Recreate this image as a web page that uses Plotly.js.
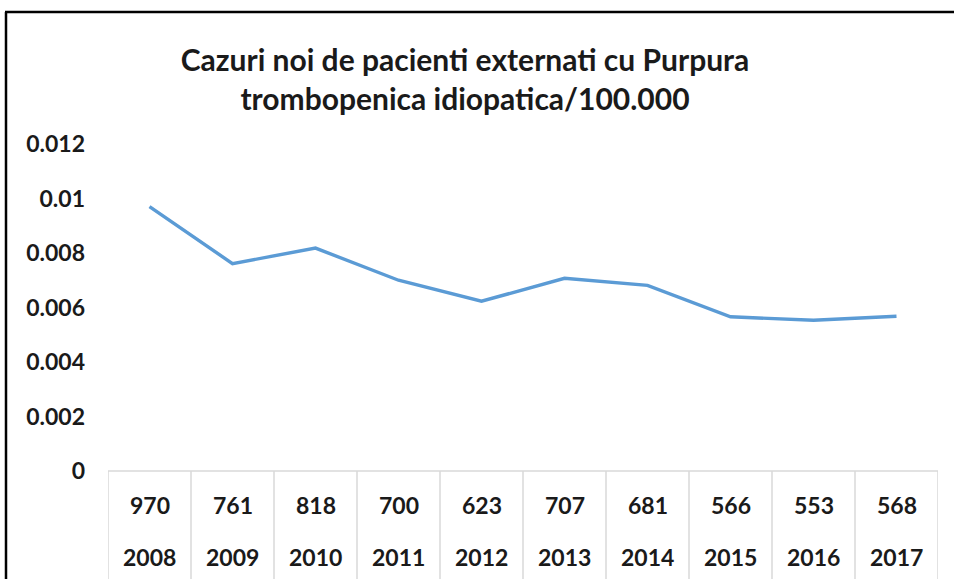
<!DOCTYPE html>
<html>
<head>
<meta charset="utf-8">
<script src="https://cdn.plot.ly/plotly-3.0.1.min.js"></script>
<style>
  html, body { margin: 0; padding: 0; background: #fff; }
  #chart { width: 954px; height: 579px; }
</style>
</head>
<body>
<div id="chart"></div>
<script>
// ---- data ----
const years = ["2008", "2009", "2010", "2011", "2012", "2013", "2014", "2015", "2016", "2017"];
const cases = ["970", "761", "818", "700", "623", "707", "681", "566", "553", "568"];
const rates = [0.0097, 0.00761, 0.00818, 0.0070, 0.00623, 0.00707, 0.00681, 0.00566, 0.00553, 0.00568];
const yTicks = [0, 0.002, 0.004, 0.006, 0.008, 0.01, 0.012];
const titleText = "Cazuri noi de pacienti externati cu Purpura<br>trombopenica idiopatica/100.000";

// ---- layout constants ----
const W = 954, H = 579;
const mL = 108, mR = 16, mT = 144, mB = 108;
const plotW = W - mL - mR, plotH = H - mT - mB;
const pxToPaperX = px => (px - mL) / plotW;
const pxToPaperY = py => (H - mB - py) / plotH;

const FONT = "Lato, 'Open Sans', sans-serif";
const gridColor = "#d9d9d9";
const textColor = "#1a1a1a";

const trace = {
  type: "scatter",
  mode: "lines",
  x: years.map((_, i) => i),
  y: rates,
  line: { color: "#5B9BD5", width: 3.4 },
  hoverinfo: "skip",
  showlegend: false
};

// table annotations below axis
const annotations = [];
years.forEach((yr, i) => {
  annotations.push({
    x: i, xref: "x", y: pxToPaperY(505), yref: "paper",
    text: cases[i], showarrow: false, xanchor: "center", yanchor: "middle",
    font: { family: FONT, size: 23, color: textColor, weight: 700 }
  });
  annotations.push({
    x: i, xref: "x", y: pxToPaperY(557), yref: "paper",
    text: yr, showarrow: false, xanchor: "center", yanchor: "middle",
    font: { family: FONT, size: 23, color: textColor, weight: 700 }
  });
});

// table grid lines
const shapes = [];
for (let i = 0; i <= years.length; i++) {
  shapes.push({
    type: "line", xref: "x", yref: "paper",
    x0: i - 0.5, x1: i - 0.5, y0: 0, y1: pxToPaperY(H),
    line: { color: gridColor, width: 1.5 }
  });
}
shapes.push({
  type: "line", xref: "x", yref: "paper",
  x0: -0.5, x1: years.length - 0.5, y0: 0, y1: 0,
  line: { color: gridColor, width: 1.5 }
});
// outer frame (left and top border)
shapes.push({
  type: "line", xref: "paper", yref: "paper",
  x0: pxToPaperX(6), x1: pxToPaperX(6), y0: pxToPaperY(12), y1: pxToPaperY(H + 5),
  line: { color: "#000", width: 2.5 }
});
shapes.push({
  type: "line", xref: "paper", yref: "paper",
  x0: pxToPaperX(5), x1: pxToPaperX(W + 5), y0: pxToPaperY(12), y1: pxToPaperY(12),
  line: { color: "#000", width: 2.5 }
});

const layout = {
  width: W, height: H,
  margin: { l: mL, r: mR, t: mT, b: mB, pad: 0 },
  paper_bgcolor: "#fff",
  plot_bgcolor: "#fff",
  title: {
    text: titleText,
    x: 465 / W, xref: "container", xanchor: "center",
    y: 1 - 71 / H, yref: "container", yanchor: "middle",
    font: { family: FONT, size: 30, color: textColor, weight: 700 }
  },
  xaxis: {
    range: [-0.5, years.length - 0.5],
    showticklabels: false,
    showgrid: false, zeroline: false, showline: false, ticks: ""
  },
  yaxis: {
    range: [0, 0.012],
    tickvals: yTicks,
    ticktext: yTicks.map(v => String(v)),
    showgrid: false, zeroline: false, showline: false, ticks: "",
    ticklabelstandoff: 22,
    tickfont: { family: FONT, size: 23, color: textColor, weight: 700 }
  },
  shapes: shapes,
  annotations: annotations,
  showlegend: false
};

Plotly.newPlot("chart", [trace], layout, { displayModeBar: false, staticPlot: true });
</script>
</body>
</html>
